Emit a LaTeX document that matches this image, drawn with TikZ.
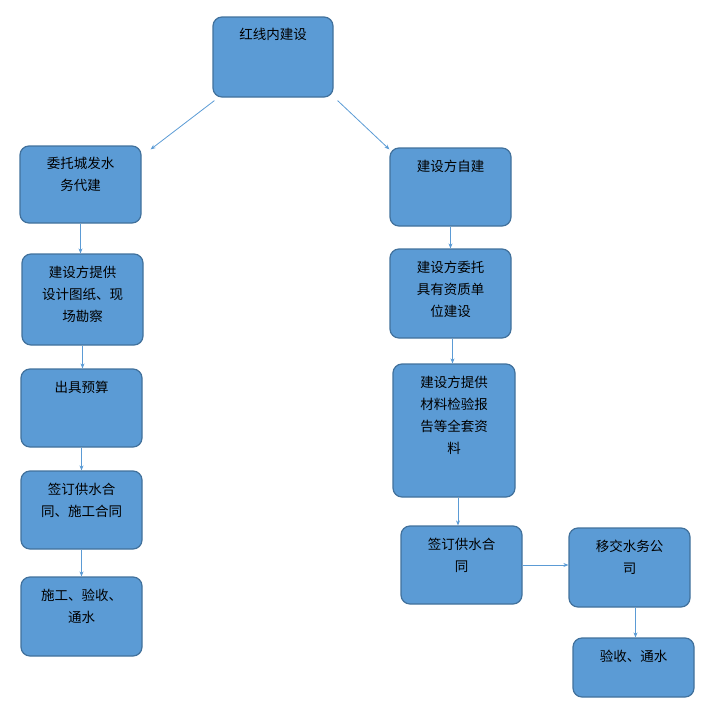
\documentclass[tikz,border=0pt]{standalone}
\usepackage{fontspec}
\newfontfamily\cjk{Noto Sans CJK SC}
\usetikzlibrary{arrows.meta}
\definecolor{boxfill}{HTML}{5B9BD5}
\definecolor{boxline}{HTML}{41719C}
\tikzset{
  box/.style={draw=boxline, fill=boxfill, rounded corners=9pt, line width=1.2pt, inner sep=0pt},
  lbl/.style={anchor=north, yshift=-12pt, align=center, font=\cjk\fontsize{13.5}{22}\selectfont, inner sep=0pt},
  arr/.style={draw=boxfill, line width=0.8pt, -{Stealth[length=5pt,width=4pt]}}
}
% \bx{name}{x1}{y1}{x2}{y2}{text}
\newcommand{\bx}[6]{%
  \pgfmathsetmacro{\bw}{#4-#2}\pgfmathsetmacro{\bh}{#5-#3}%
  \node[box, minimum width=\bw pt, minimum height=\bh pt,
        label={[lbl]north:#6}] (#1) at ({(#2+#4)/2},{(#3+#5)/2}) {};}
\begin{document}
\begin{tikzpicture}[x=1pt,y=-1pt]
  \useasboundingbox (0,0) rectangle (710,712);

  \bx{root}{213}{17}{333}{97}{红线内建设}
  \bx{agent}{20}{146}{141}{223}{委托城发水\\务代建}
  \bx{self}{390}{148}{511}{226}{建设方自建}
  \bx{survey}{22}{254}{143}{345}{建设方提供\\设计图纸、现\\场勘察}
  \bx{budget}{21}{369}{142}{447}{出具预算}
  \bx{contractL}{21}{471}{142}{549}{签订供水合\\同、施工合同}
  \bx{buildL}{21}{577}{142}{656}{施工、验收、\\通水}
  \bx{entrust}{390}{249}{511}{338}{建设方委托\\具有资质单\\位建设}
  \bx{report}{393}{364}{515}{497}{建设方提供\\材料检验报\\告等全套资\\料}
  \bx{contractR}{401}{526}{522}{604}{签订供水合\\同}
  \bx{handover}{569}{528}{690}{607}{移交水务公\\司}
  \bx{accept}{573}{638}{694}{697}{验收、通水}

  \draw[arr] ([shift={(2,3)}]root.south west) -- ([shift={(9,4)}]agent.north east);
  \draw[arr] ([shift={(4,3)}]root.south east) -- ([shift={(0,2)}]self.north west);
  \draw[arr] (agent.south) -- (agent.south |- survey.north);
  \draw[arr] (survey.south) -- (survey.south |- budget.north);
  \draw[arr] (budget.south) -- (budget.south |- contractL.north);
  \draw[arr] (contractL.south) -- (contractL.south |- buildL.north);
  \draw[arr] (self.south) -- (self.south |- entrust.north);
  \draw[arr] ([xshift=2]entrust.south) -- ([xshift=2]entrust.south |- report.north);
  \draw[arr] ([xshift=4]report.south) -- ([xshift=4]report.south |- contractR.north);
  \draw[arr] (contractR.east) -- (contractR.east -| handover.west);
  \draw[arr] ([xshift=6]handover.south) -- ([xshift=6]handover.south |- accept.north);
\end{tikzpicture}
\end{document}
